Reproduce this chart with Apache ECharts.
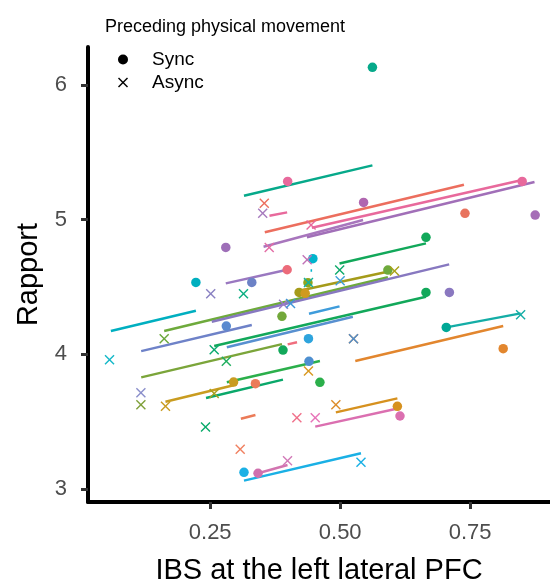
<!DOCTYPE html>
<html>
<head>
<meta charset="utf-8">
<script src="https://cdn.jsdelivr.net/npm/echarts@6/dist/echarts.min.js"></script>
<style>
  html, body { margin: 0; padding: 0; background: #fff; }
  #chart { width: 550px; height: 582px; }
</style>
</head>
<body>
<div id="chart"></div>
<script>
// points after synchronised movement
const syncX = [0.562, 0.399, 0.545, 0.740, 0.850, 0.875, 0.280, 0.665, 0.4475, 0.398, 0.330, 0.2225, 0.421, 0.4327, 0.438, 0.5917,
  0.665, 0.710, 0.388, 0.281, 0.704, 0.439, 0.390, 0.440, 0.8135, 0.295, 0.337, 0.461, 0.610, 0.615, 0.315, 0.342];
const syncY = [6.131, 5.284, 5.128, 5.047, 5.284, 5.034, 4.794, 4.869, 4.710, 4.628, 4.534, 4.534, 4.460, 4.453, 4.532, 4.626,
  4.460, 4.460, 4.282, 4.210, 4.200, 4.116, 4.032, 3.948, 4.042, 3.794, 3.782, 3.792, 3.614, 3.542, 3.124, 3.117];
const syncColor = ["#06A98A", "#E8699C", "#B066B0", "#E8735E", "#E8699C", "#A66DB7", "#9E6FB8", "#12A85A", "#00B4CC", "#EC6B7A",
  "#6C82C6", "#00AFBF", "#A59B1A", "#CF9A1E", "#8FA51C", "#6EAA3C", "#12A85A", "#8A78C0", "#72A83A", "#5A8AD0", "#00A896",
  "#2EA4DD", "#12A85A", "#4E8FD0", "#E2862E", "#C99C20", "#EB7B58", "#2BAF4B", "#D6911F", "#DB6FB0", "#1AB0E5", "#D070AE"];

// points after asynchronous movement
const asyncX = [0.354, 0.351, 0.444, 0.3635, 0.4365, 0.499, 0.500, 0.439, 0.251, 0.314, 0.6045, 0.391, 0.4045, 0.847, 0.1615,
  0.2577, 0.5256, 0.5256, 0.0564, 0.281, 0.439, 0.1167, 0.1167, 0.164, 0.2577, 0.4917, 0.241, 0.4167, 0.452, 0.3077, 0.3987, 0.540];
const asyncY = [5.121, 5.047, 4.960, 4.794, 4.702, 4.626, 4.547, 4.534, 4.450, 4.450, 4.618, 4.371, 4.378, 4.294, 4.116,
  4.034, 4.116, 4.116, 3.960, 3.948, 3.876, 3.715, 3.626, 3.614, 3.710, 3.626, 3.460, 3.529, 3.529, 3.295, 3.210, 3.198];
const asyncColor = ["#EC6E5E", "#A77BBE", "#E8699C", "#E36DA5", "#C073B7", "#0DAA6A", "#3EA0DA", "#14B0A0", "#8980C2", "#0CAF82",
  "#A8A21A", "#9C7BC6", "#3E96D8", "#14ADA6", "#6AA83A", "#0AAA70", "#E2862E", "#4E8FD0", "#14B8C8", "#1FAE5E", "#D8981F",
  "#8B8FCB", "#7FA03A", "#C99C20", "#A8A020", "#DC8C2A", "#0AAA6A", "#F0708A", "#E773B8", "#F08060", "#D27AB8", "#1AB0E5"];

// fitted line per dyad: start / end
const lineX0 = [0.315, 0.364, 0.355, 0.4455, 0.436, 0.3526, 0.4987, 0.280, 0.421, 0.1615, 0.253, 0.059, 0.440, 0.1173, 0.2577,
  0.282, 0.704, 0.529, 0.1173, 0.399, 0.282, 0.242, 0.164, 0.309, 0.4917, 0.452, 0.342, 0.315, 0.443];
const lineY0 = [5.178, 5.029, 4.906, 4.940, 4.869, 4.799, 4.675, 4.527, 4.472, 4.173, 4.242, 4.173, 4.301, 4.024, 4.062,
  4.052, 4.200, 3.950, 3.829, 4.074, 3.792, 3.676, 3.648, 3.522, 3.569, 3.463, 3.117, 3.062, 4.626];
const lineX1 = [0.562, 0.398, 0.738, 0.850, 0.8737, 0.544, 0.665, 0.398, 0.591, 0.5917, 0.7096, 0.2225, 0.4987, 0.330, 0.665,
  0.5244, 0.847, 0.8135, 0.388, 0.417, 0.461, 0.390, 0.295, 0.337, 0.610, 0.615, 0.3987, 0.540, 0.446];
const lineY1 = [5.403, 5.054, 5.259, 5.294, 5.279, 4.997, 4.824, 4.628, 4.613, 4.572, 4.668, 4.324, 4.356, 4.218, 4.428,
  4.279, 4.304, 4.210, 4.076, 4.089, 3.950, 3.812, 3.770, 3.549, 3.673, 3.601, 3.178, 3.265, 4.628];
const lineColor = ["#06A98A", "#E8699C", "#EC6E5E", "#E8699C", "#A16FB8", "#A876BD", "#12A85A", "#9A78C0", "#A59B1A", "#6EAA3C",
  "#8778C0", "#00AFC0", "#3E9CDB", "#6E82C8", "#12A85A", "#5890D0", "#14ADA6", "#E2862E", "#7BA53A", "#F06E7E", "#2BAF4B",
  "#0AA86A", "#C99C20", "#EB7B58", "#D6911F", "#DB6FB0", "#D274B0", "#1AB0E5", "#00B4CC"];

const xTicks = [0.25, 0.5, 0.75];
const yTicks = [3, 4, 5, 6];

const crossPath = "path://M0,1L1,0L5,4L9,0L10,1L6,5L10,9L9,10L5,6L1,10L0,9L4,5Z";
const font = "Liberation Sans, Arial, Helvetica, sans-serif";

const syncData = syncX.map((x, i) => ({ value: [x, syncY[i]], itemStyle: { color: syncColor[i] } }));
const asyncData = asyncX.map((x, i) => ({ value: [x, asyncY[i]], itemStyle: { color: asyncColor[i] } }));
const lineData = lineX0.map((x, i) => ({
  coords: [[x, lineY0[i]], [lineX1[i], lineY1[i]]],
  lineStyle: { color: lineColor[i] },
}));

const axisCommon = {
  type: "value",
  axisLine: { show: true, lineStyle: { color: "#000", width: 4 } },
  axisTick: { show: true, length: 7, lineStyle: { color: "#333", width: 3 } },
  splitLine: { show: false },
};

const option = {
  animation: false,
  textStyle: { fontFamily: font },
  title: {
    text: "Preceding physical movement",
    left: 100,
    top: 13,
    textStyle: { fontSize: 18, fontWeight: "normal", color: "#000", fontFamily: font },
  },
  legend: {
    orient: "vertical",
    left: 113,
    top: 45,
    itemWidth: 10,
    itemHeight: 10,
    itemGap: 4,
    selectedMode: false,
    data: ["Sync", "Async"],
    textStyle: { fontSize: 19, color: "#000", fontFamily: font, padding: [0, 0, 0, 19] },
  },
  grid: { left: 88, right: 0, top: 47, bottom: 80, containLabel: false, outerBoundsMode: "none" },
  xAxis: {
    ...axisCommon,
    min: 0.015,
    max: 0.9035,
    axisTick: { ...axisCommon.axisTick, customValues: xTicks },
    axisLabel: {
      customValues: xTicks,
      fontSize: 22,
      color: "#4D4D4D",
      margin: 20,
      formatter: (v) => v.toFixed(2),
    },
    name: "IBS at the left lateral PFC",
    nameLocation: "middle",
    nameGap: 54,
    nameTextStyle: { fontSize: 29, color: "#000" },
  },
  yAxis: {
    ...axisCommon,
    min: 2.9035,
    max: 6.282,
    axisTick: { ...axisCommon.axisTick, customValues: yTicks },
    axisLabel: {
      customValues: yTicks,
      fontSize: 22,
      color: "#4D4D4D",
      margin: 21,
    },
    name: "Rapport",
    nameLocation: "middle",
    nameGap: 44,
    nameTextStyle: { fontSize: 29, color: "#000" },
  },
  series: [
    {
      type: "lines",
      coordinateSystem: "cartesian2d",
      polyline: false,
      silent: true,
      z: 2,
      lineStyle: { width: 2.5, opacity: 1 },
      data: lineData,
    },
    {
      name: "Sync",
      type: "scatter",
      symbol: "circle",
      symbolSize: 9.5,
      z: 3,
      itemStyle: { color: "#000", opacity: 1 },
      data: syncData,
    },
    {
      name: "Async",
      type: "scatter",
      symbol: crossPath,
      symbolSize: 10,
      z: 3,
      itemStyle: { color: "#000", opacity: 1 },
      data: asyncData,
    },
  ],
};

const chart = echarts.init(document.getElementById("chart"), null, { renderer: "canvas" });
chart.setOption(option);
</script>
</body>
</html>
